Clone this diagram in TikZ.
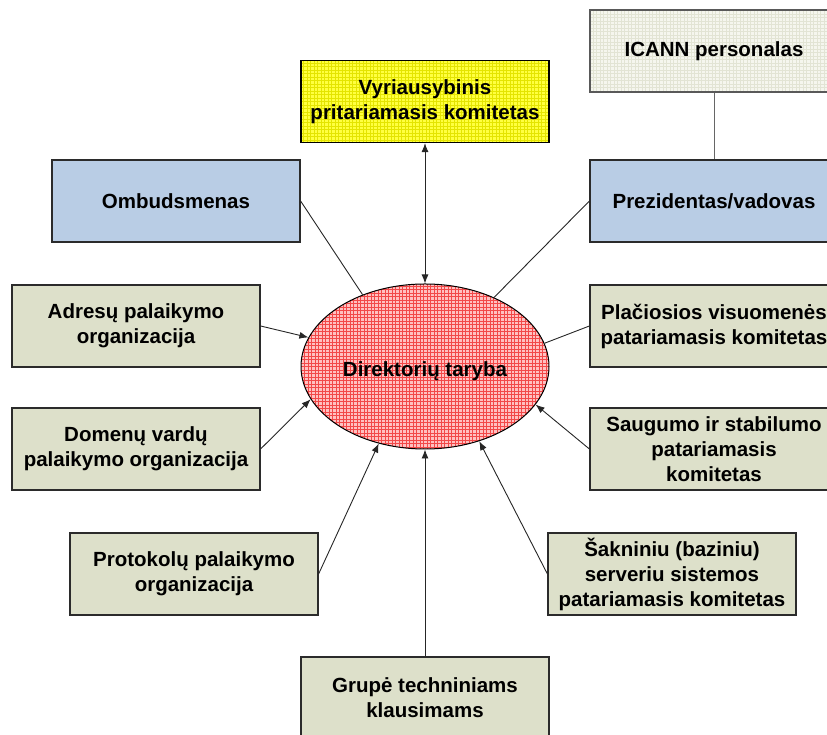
\documentclass[tikz,border=0pt]{standalone}
\usepackage{fontspec}
\setmainfont{Liberation Sans}
\usetikzlibrary{arrows.meta,shapes.geometric}
\definecolor{olivebox}{HTML}{DDE0CA}
\definecolor{bluebox}{HTML}{B9CDE5}
\definecolor{yellowfill}{HTML}{FFFF40}
\definecolor{yellowgrid}{HTML}{E4E400}
\definecolor{pinkfill}{HTML}{FFC0C0}
\definecolor{redgrid}{HTML}{F24848}
\definecolor{palefill}{HTML}{F5F6EE}
\definecolor{palegrid}{HTML}{E2E4D4}
\definecolor{edgecol}{HTML}{2B2B2B}
\begin{document}
\begin{tikzpicture}[x=1pt,y=1pt,
  every node/.style={font=\bfseries\fontsize{20.5}{25}\selectfont, align=center},
  box/.style={rectangle, draw=edgecol, line width=1.2pt, minimum width=248pt,
    minimum height=82pt, inner sep=0pt},
  olive/.style={box, fill=olivebox},
  blue/.style={box, fill=bluebox},
  gridded/.style 2 args={fill=#1, path picture={
      \draw[#2, line width=0.6pt]
        (path picture bounding box.south west) grid[step=3.5pt]
        (path picture bounding box.north east);}},
  link/.style={draw=black!85, line width=0.9pt},
  arr/.style={link, -{Latex[length=9pt,width=7pt]}},
  twoarr/.style={link, {Latex[length=9pt,width=7pt]}-{Latex[length=9pt,width=7pt]}}
]
\useasboundingbox (0,0) rectangle (827,735);

% central board (label set a little below the centre)
\node[ellipse, draw=black, line width=1pt, minimum width=248pt, minimum height=165pt,
      inner sep=0pt, gridded={pinkfill}{redgrid}] (board) at (425,368.5)
      {\raisebox{-10.5pt}[0pt][0pt]{Direktorių taryba}};

% top row
\node[box, gridded={palefill}{palegrid}, draw=black!65] (icann) at (714,684) {ICANN personalas};
\node[box, gridded={yellowfill}{yellowgrid}, draw=black] (gov) at (425,633.5)
      {Vyriausybinis\\pritariamasis komitetas};
\node[blue] (omb)  at (176,534) {Ombudsmenas};
\node[blue] (pres) at (714,534) {Prezidentas/vadovas};

% left column
\node[olive] (addr)  at (136,409) {Adresų palaikymo\\organizacija};
\node[olive] (dns)   at (136,286) {Domenų vardų\\palaikymo organizacija};
\node[olive] (proto) at (194,161) {Protokolų palaikymo\\organizacija};

% right column
\node[olive] (pub)  at (714,409) {Plačiosios visuomenės\\patariamasis komitetas};
\node[olive] (sec)  at (714,286) {Saugumo ir stabilumo\\patariamasis\\komitetas};
\node[olive] (root) at (672,161) {Šakniniu (baziniu)\\serveriu sistemos\\patariamasis komitetas};

% bottom
\node[olive] (tech) at (425,37) {Grupė techniniams\\klausimams};

% connectors
\draw[twoarr] (gov.south) -- (board.north);
\draw[draw=black!60, line width=1pt] (icann.south) -- (pres.north);
\draw[link] (omb.east) -- (board.131.4);
\draw[link] (pres.west) -- (board.45.6);
\draw[link] (pub.west) -- (board.11.2);
\draw[arr] (addr.east) -- (board.166.8);
\draw[arr] (dns.east) -- (board.196.2);
\draw[arr] (proto.east) -- (board.239.7);
\draw[arr] (sec.west) -- (board.-19.1);
\draw[arr] (root.west) -- (board.-54.8);
\draw[arr] (tech.north) -- (board.south);
\end{tikzpicture}
\end{document}
